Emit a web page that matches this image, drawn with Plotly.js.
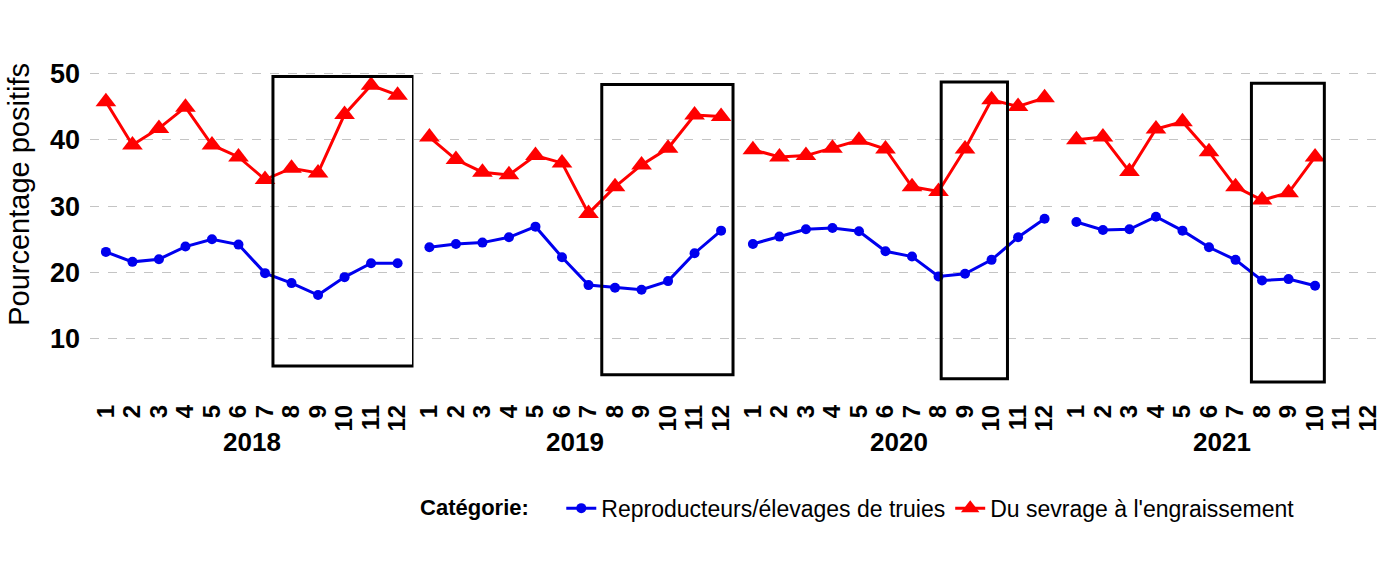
<!DOCTYPE html>
<html>
<head>
<meta charset="utf-8">
<script src="https://cdn.plot.ly/plotly-3.0.1.min.js"></script>
<style>html,body{margin:0;padding:0;background:#fff;}#chart{width:1400px;height:566px;}</style>
</head>
<body>
<div id="chart"></div>
<script>
// ---- data ----
const years = ['2018', '2019', '2020', '2021'];
const months = [1, 2, 3, 4, 5, 6, 7, 8, 9, 10, 11, 12];
const monthLabels = ['1', '2', '3', '4', '5', '6', '7', '8', '9', '10', '11', '12'];
const yTicks = [10, 20, 30, 40, 50];

const seriesNames = ['Reproducteurs/élevages de truies', "Du sevrage à l'engraissement"];

const truies2018 = [23.1, 21.6, 22.0, 23.9, 25.0, 24.2, 19.9, 18.4, 16.6, 19.3, 21.4, 21.4];
const truies2019 = [23.8, 24.3, 24.5, 25.3, 26.9, 22.3, 18.1, 17.7, 17.4, 18.7, 22.9, 26.3];
const truies2020 = [24.3, 25.4, 26.5, 26.7, 26.2, 23.2, 22.4, 19.4, 19.8, 21.9, 25.3, 28.1];
const truies2021 = [27.6, 26.4, 26.5, 28.4, 26.3, 23.8, 21.9, 18.8, 19.0, 18.0, null, null];

const sevrage2018 = [45.7, 39.2, 41.7, 44.9, 39.2, 37.4, 34.0, 35.7, 35.0, 43.8, 48.2, 46.7];
const sevrage2019 = [40.4, 37.0, 35.1, 34.7, 37.6, 36.5, 28.9, 32.9, 36.2, 38.7, 43.7, 43.5];
const sevrage2020 = [38.5, 37.4, 37.6, 38.7, 39.9, 38.6, 32.9, 32.2, 38.6, 46.0, 45.0, 46.3];
const sevrage2021 = [40.0, 40.4, 35.2, 41.6, 42.7, 38.2, 32.9, 30.9, 32.0, 37.4, null, null];

// highlighted periods (boxes), one per year
const boxMonthStart = [7.3, 7.5, 8.1, 7.6];
const boxMonthEnd = [12.6, 12.45, 10.6, 10.35];
const boxLow = [5.9, 4.6, 4.0, 3.5];
const boxHigh = [49.5, 48.3, 48.7, 48.5];

// ---- build chart ----
const truies = [truies2018, truies2019, truies2020, truies2021];
const sevrage = [sevrage2018, sevrage2019, sevrage2020, sevrage2021];
const BLUE = '#0000EE', RED = '#FF0000';
const FONT = 'Liberation Sans, Arial, sans-serif';

const traces = [];
years.forEach((yr, i) => {
  const xa = i === 0 ? 'x' : 'x' + (i + 1);
  traces.push({
    type: 'scatter', mode: 'lines+markers', x: months, y: truies[i],
    xaxis: xa, yaxis: 'y', name: seriesNames[0], legendgroup: 'a', showlegend: i === 0,
    line: {color: BLUE, width: 3}, marker: {color: BLUE, size: 10, symbol: 'circle'},
    connectgaps: false, hoverinfo: 'x+y'
  });
  traces.push({
    type: 'scatter', mode: 'lines+markers', x: months, y: sevrage[i],
    xaxis: xa, yaxis: 'y', name: seriesNames[1], legendgroup: 'b', showlegend: i === 0,
    line: {color: RED, width: 3}, marker: {color: RED, size: 18, symbol: 'triangle-up'},
    connectgaps: false, hoverinfo: 'x+y'
  });
});

const layout = {
  width: 1400, height: 566,
  margin: {l: 90, r: 16, t: 60, b: 174},
  paper_bgcolor: '#fff', plot_bgcolor: '#fff',
  font: {family: FONT, color: '#000'},
  showlegend: true,
  legend: {
    orientation: 'h', x: 0.2535, xanchor: 'left', y: -0.35, yanchor: 'middle',
    font: {family: FONT, size: 23, color: '#000'},
    title: {text: '<b>Catégorie:</b>    ', font: {family: FONT, size: 22, color: '#000'}},
    itemwidth: 30, tracegroupgap: 0
  },
  yaxis: {
    range: [2, 52], tickvals: yTicks, ticktext: yTicks.map(String),
    showgrid: true, gridcolor: '#c4c4c4', griddash: 'dash', gridwidth: 1,
    zeroline: false, showline: false, ticks: '',
    tickfont: {family: FONT, size: 27, color: '#000', weight: 'bold'},
    ticklabelstandoff: 9
  },
  shapes: [],
  annotations: [{
    text: 'Pourcentage positifs', textangle: -90,
    xref: 'paper', x: (19 - 90) / 1294, xanchor: 'center',
    yref: 'paper', y: (392.5 - 195) / 332.5, yanchor: 'middle',
    showarrow: false, font: {family: FONT, size: 29, color: '#000'}
  }]
};

years.forEach((yr, i) => {
  const key = i === 0 ? 'xaxis' : 'xaxis' + (i + 1);
  layout[key] = {
    domain: [i * 0.25, (i + 1) * 0.25],
    anchor: 'y',
    range: [0.4, 12.6],
    tickvals: months, ticktext: monthLabels, tickangle: -90,
    tickfont: {family: FONT, size: 24, color: '#000', weight: 'bold'},
    showgrid: false, zeroline: false, showline: false, ticks: '',
    ticklabelstandoff: 7
  };
  const xref = i === 0 ? 'x' : 'x' + (i + 1);
  layout.annotations.push({
    text: '<b>' + yr + '</b>', xref: xref, x: 6.5, yref: 'paper', y: -0.152,
    xanchor: 'center', yanchor: 'middle', showarrow: false,
    font: {family: FONT, size: 26, color: '#000'}
  });
  layout.shapes.push({
    type: 'rect', xref: xref, yref: 'y',
    x0: boxMonthStart[i], x1: boxMonthEnd[i], y0: boxLow[i], y1: boxHigh[i],
    line: {color: '#000', width: 3}, fillcolor: 'rgba(0,0,0,0)', layer: 'above'
  });
});

Plotly.newPlot('chart', traces, layout, {displayModeBar: false, staticPlot: true});
</script>
</body>
</html>
